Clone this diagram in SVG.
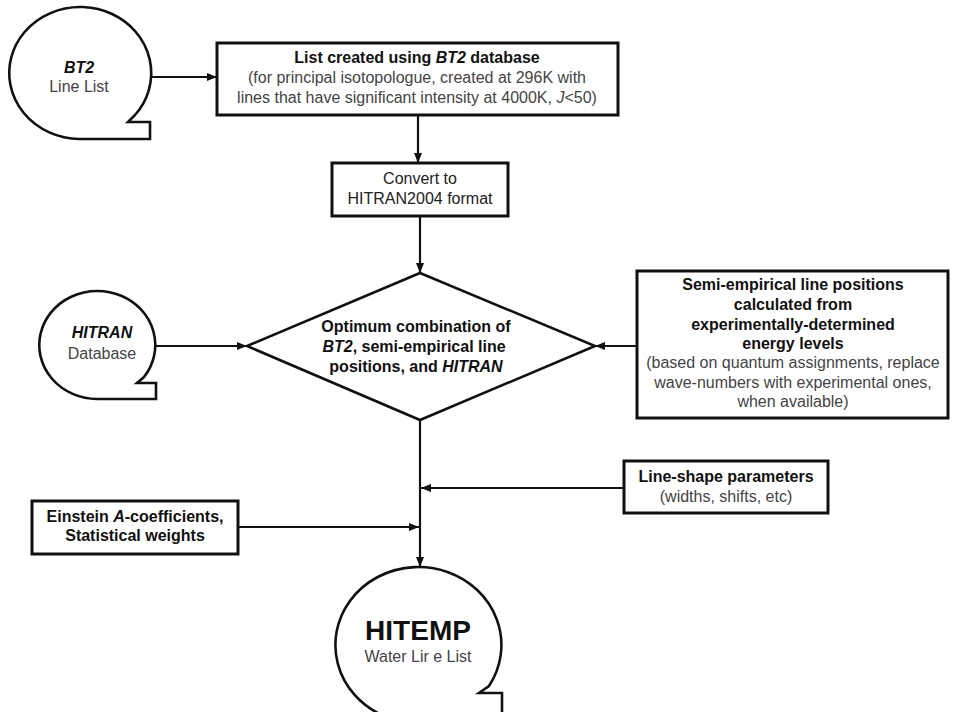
<svg xmlns="http://www.w3.org/2000/svg" width="959" height="712" viewBox="0 0 959 712">
<defs>
<marker id="ah" markerUnits="userSpaceOnUse" markerWidth="10" markerHeight="10" viewBox="0 0 10 10" refX="10" refY="5" orient="auto">
<path d="M0,1 L10,5 L0,9 Z" fill="#111"/>
</marker>
<style>
.box{fill:#fff;stroke:#111;stroke-width:3}
.shp{fill:#fff;stroke:#111;stroke-width:2.6}
.con{fill:none;stroke:#111;stroke-width:2.2;marker-end:url(#ah)}
text{font-family:"Liberation Sans",Arial,sans-serif;font-size:16px;text-anchor:middle}
.b{font-weight:bold;fill:#111}
.r{fill:#444}
.i{font-style:italic}
</style>
</defs>
<rect width="959" height="712" fill="#fff"/>

<g id="bt2">
<path class="shp" d="M79 139 L150 139 L150 122 L128 122 L135 115 A71 66 0 1 0 79 139 Z"/>
<text x="79" y="73" class="b i">BT2</text>
<text x="79" y="92" class="r">Line List</text>
</g>

<g id="list">
<rect class="box" x="217" y="43" width="401" height="72"/>
<text x="417" y="63" class="b">List created using <tspan class="i">BT2</tspan> database</text>
<text x="417" y="83" class="r">(for principal isotopologue, created at 296K with</text>
<text x="417" y="103" class="r">lines that have significant intensity at 4000K, <tspan class="i">J</tspan>&lt;50)</text>
</g>

<g id="convert">
<rect class="box" x="332" y="163" width="176" height="53"/>
<text x="420" y="184" class="r" style="fill:#222">Convert to</text>
<text x="420" y="204" class="r" style="fill:#222">HITRAN2004 format</text>
</g>

<g id="hitran">
<path class="shp" d="M97 399 L156 399 L156 383 L137 383 L144 377 A58 54 0 1 0 97 399 Z"/>
<text x="102" y="338" class="b i">HITRAN</text>
<text x="102" y="359" class="r">Database</text>
</g>

<g id="optimum">
<polygon class="shp" points="420,273 595,346 420,420 247,346"/>
<text x="416" y="332" class="b">Optimum combination of</text>
<text x="414" y="352" class="b"><tspan class="i">BT2</tspan>, semi-empirical line</text>
<text x="416" y="372" class="b">positions, and <tspan class="i">HITRAN</tspan></text>
</g>

<g id="semi">
<rect class="box" x="637" y="271" width="311" height="147"/>
<text x="793" y="290" class="b">Semi-empirical line positions</text>
<text x="793" y="310" class="b">calculated from</text>
<text x="793" y="330" class="b">experimentally-determined</text>
<text x="793" y="349" class="b">energy levels</text>
<text x="793" y="368" class="r">(based on quantum assignments, replace</text>
<text x="793" y="388" class="r">wave-numbers with experimental ones,</text>
<text x="793" y="407" class="r">when available)</text>
</g>

<g id="lineshape">
<rect class="box" x="624" y="461" width="204" height="52"/>
<text x="726" y="482" class="b">Line-shape parameters</text>
<text x="726" y="502" class="r">(widths, shifts, etc)</text>
</g>

<g id="einstein">
<rect class="box" x="32" y="501" width="206" height="53"/>
<text x="135" y="522" class="b">Einstein <tspan class="i">A</tspan>-coefficients,</text>
<text x="135" y="541" class="b">Statistical weights</text>
</g>

<g id="hitemp">
<path class="shp" d="M419 723 L502 723 L502 693 L479 693 L489 686 A83 78 0 1 0 419 723 Z"/>
<text x="418" y="640" class="b" style="font-size:28px">HITEMP</text>
<text x="418" y="662" class="r">Water Lir e List</text>
</g>

<g id="connectors">
<path class="con" d="M150 77 H217"/>
<path class="con" d="M418 115 V163"/>
<path class="con" d="M420 216 V273"/>
<path class="con" d="M156 346 H247"/>
<path class="con" d="M637 346 H595"/>
<path class="con" d="M420 420 V567"/>
<path class="con" d="M624 488 H421"/>
<path class="con" d="M238 527 H419"/>
</g>
</svg>
